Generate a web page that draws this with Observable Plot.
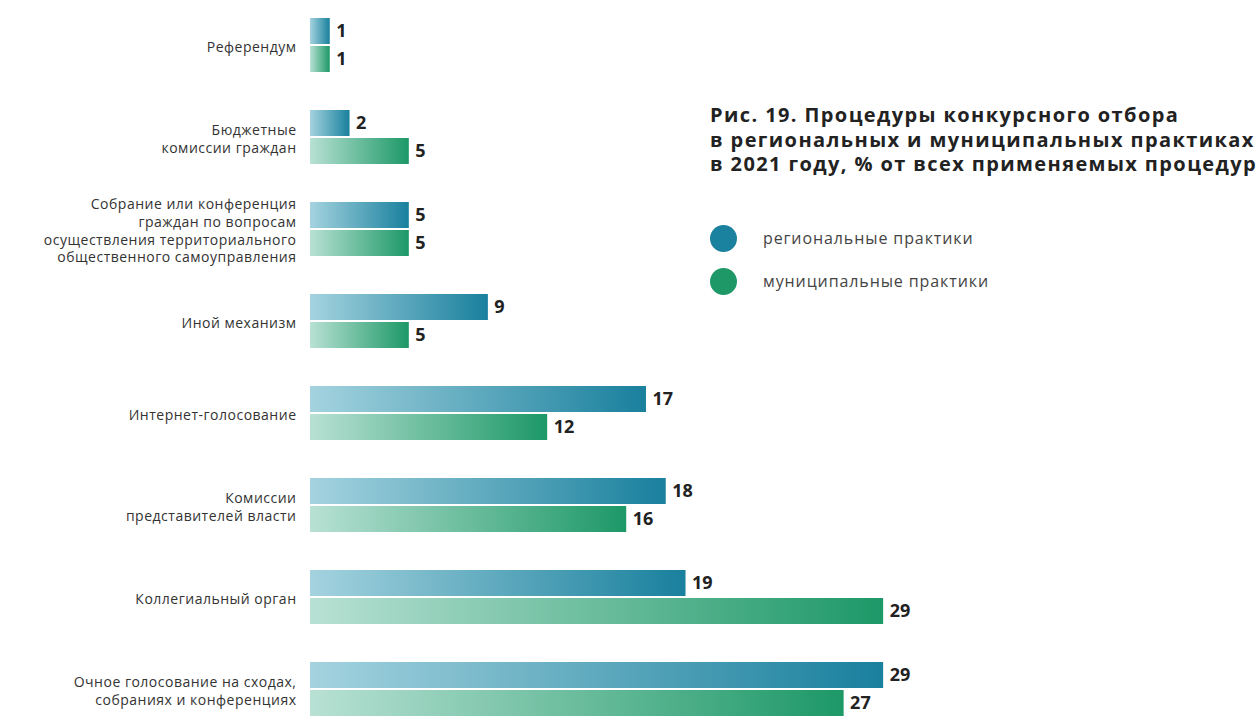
<!DOCTYPE html>
<html>
<head>
<meta charset="utf-8">
<script src="https://cdn.jsdelivr.net/npm/d3@7"></script>
<script src="https://cdn.jsdelivr.net/npm/@observablehq/plot@0.6"></script>
<style>
  html, body { margin: 0; padding: 0; background: #fff; overflow: hidden; }
  #wrap { position: relative; width: 1258px; height: 718px; overflow: hidden; font-family: "Open Sans", sans-serif; }
  #chart { position: absolute; left: 0; top: 0; }
  #chart .catlab text { letter-spacing: 0.5px; }
  #title { position: absolute; left: 710px; top: 103px; font-size: 20px; line-height: 24.5px; font-weight: 700; color: #222; letter-spacing: 1.4px; white-space: nowrap; }
  .leg { position: absolute; left: 710px; height: 26px; display: flex; align-items: center; font-size: 16px; color: #444; letter-spacing: 0.9px; font-weight: 400; }
  .leg .dot { width: 27px; height: 27px; border-radius: 50%; margin-right: 26px; flex: none; }
</style>
</head>
<body>
<div id="wrap">
  <div id="chart"></div>
  <div id="title">Рис. 19. Процедуры конкурсного отбора<br>в региональных и муниципальных практиках<br>в 2021 году, % от всех применяемых процедур</div>
  <div class="leg" style="top:225px"><span class="dot" style="background:#1a819e"></span>региональные практики</div>
  <div class="leg" style="top:268px"><span class="dot" style="background:#1f9868"></span>муниципальные практики</div>
</div>
<script>
const categories = ["Референдум", "Бюджетные комиссии граждан", "Собрание или конференция ТОС", "Иной механизм", "Интернет-голосование", "Комиссии представителей власти", "Коллегиальный орган", "Очное голосование"];
const categoryLabels = [
  "Референдум",
  "Бюджетные\nкомиссии граждан",
  "Собрание или конференция\nграждан по вопросам\nосуществления территориального\nобщественного самоуправления",
  "Иной механизм",
  "Интернет-голосование",
  "Комиссии\nпредставителей власти",
  "Коллегиальный орган",
  "Очное голосование на сходах,\nсобраниях и конференциях"
];
const series = ["региональные практики", "муниципальные практики"];
const regional = [1, 2, 5, 9, 17, 18, 19, 29];
const municipal = [1, 5, 5, 5, 12, 16, 29, 27];

const rows = [];
categories.forEach((c, i) => {
  rows.push({cat: c, s: series[0], v: regional[i]});
  rows.push({cat: c, s: series[1], v: municipal[i]});
});
const labelRows = categories.map((c, i) => ({cat: c, label: categoryLabels[i]}));

const defs = () => {
  const d = d3.create("svg:defs");
  const g1 = d.append("linearGradient").attr("id", "gradReg").attr("x1", 0).attr("x2", 1).attr("y1", 0).attr("y2", 0);
  g1.append("stop").attr("offset", "0%").attr("stop-color", "#a4d3df");
  g1.append("stop").attr("offset", "100%").attr("stop-color", "#19809d");
  const g2 = d.append("linearGradient").attr("id", "gradMun").attr("x1", 0).attr("x2", 1).attr("y1", 0).attr("y2", 0);
  g2.append("stop").attr("offset", "0%").attr("stop-color", "#b8e1d4");
  g2.append("stop").attr("offset", "100%").attr("stop-color", "#1d9867");
  return d.node();
};

const chart = Plot.plot({
  width: 1258,
  height: 736,
  marginTop: 0,
  marginBottom: 0,
  marginLeft: 310,
  marginRight: 363,
  style: {fontFamily: "Open Sans, sans-serif", background: "transparent"},
  x: {domain: [0, 29.6], axis: null},
  y: {domain: series, axis: null, paddingInner: 0.069, paddingOuter: 0},
  fy: {domain: categories, axis: null, paddingInner: 0.3976, paddingOuter: 0.1728},
  marks: [
    defs,
    Plot.barX(rows.filter(d => d.s === series[0]), {x: "v", y: "s", fy: "cat", fill: "url(#gradReg)"}),
    Plot.barX(rows.filter(d => d.s === series[1]), {x: "v", y: "s", fy: "cat", fill: "url(#gradMun)"}),
    Plot.text(rows, {x: "v", y: "s", fy: "cat", text: d => String(d.v), textAnchor: "start", dx: 6, fontSize: 18, fontWeight: 700, fill: "#222"}),
    Plot.text(labelRows, {fy: "cat", text: "label", frameAnchor: "left", textAnchor: "end", dx: -14, fontSize: 14, lineHeight: 1.27, fill: "#333", className: "catlab"})
  ]
});
document.getElementById("chart").appendChild(chart);
</script>
</body>
</html>
